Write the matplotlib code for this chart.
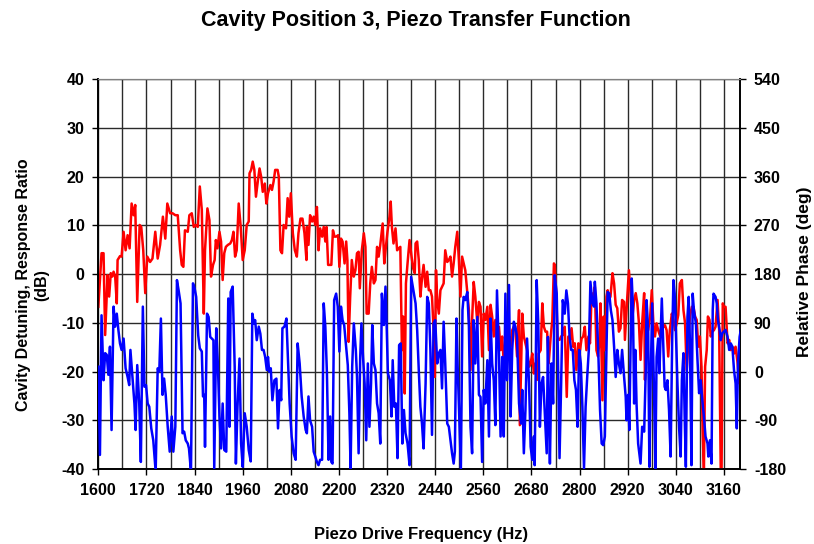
import matplotlib
matplotlib.use("Agg")
import matplotlib.pyplot as plt
import numpy as np

plt.rcParams['font.family'] = ['Liberation Sans', 'DejaVu Sans']
plt.rcParams['font.weight'] = 'bold'
plt.rcParams['axes.unicode_minus'] = False

# response ratio (dB), left axis
red_freq = [
    1600, 1608, 1613, 1617, 1623, 1627, 1631, 1635, 1638, 1642, 1646, 1648, 1654, 1658,
    1663, 1668, 1673, 1678, 1683, 1688, 1692, 1697, 1703, 1707, 1712, 1717, 1722, 1729,
    1735, 1742, 1748, 1754, 1761, 1767, 1772, 1779, 1785, 1792, 1798, 1804, 1808, 1812,
    1816, 1823, 1827, 1833, 1838, 1843, 1848, 1853, 1858, 1863,
    1866, 1872, 1877, 1881, 1886, 1890, 1893, 1897, 1902, 1906, 1910, 1914, 1918, 1923,
    1929, 1933, 1937, 1941, 1945, 1950, 1955, 1960, 1965, 1970, 1975, 1977, 1981, 1985,
    1989, 1993, 1998, 2002, 2006, 2010, 2015, 2019, 2023, 2029, 2033, 2037, 2041, 2047,
    2050, 2054, 2058, 2062, 2068, 2072, 2076, 2080, 2085, 2090, 2095, 2099, 2104, 2109,
    2114, 2119,
    2120, 2124, 2128, 2133, 2137, 2141, 2145, 2149, 2153, 2158, 2162, 2166, 2169, 2173,
    2177, 2181, 2185, 2189, 2193, 2198, 2201, 2205, 2209, 2214, 2218, 2221, 2224, 2228,
    2232, 2237, 2241, 2245, 2249, 2252, 2257, 2262, 2266, 2269, 2274, 2278, 2282, 2287,
    2291, 2295, 2299, 2303, 2309, 2313, 2317, 2321, 2326, 2329, 2332, 2336, 2341, 2345,
    2349, 2353, 2357, 2360, 2364, 2367, 2371, 2376, 2381, 2385, 2389,
    2391, 2395, 2399, 2403, 2407, 2411, 2416, 2420, 2424, 2428, 2432, 2436, 2439, 2442,
    2445, 2449, 2453, 2457, 2461, 2465, 2470, 2474, 2478, 2482, 2486, 2490, 2495, 2499,
    2503, 2507, 2511, 2515, 2520, 2524, 2528, 2532, 2536, 2540, 2545, 2549, 2553, 2557,
    2561, 2565, 2570, 2574, 2578, 2582, 2586, 2590, 2594, 2599, 2603, 2607, 2611, 2615,
    2619, 2624, 2628, 2632, 2636, 2640, 2644, 2649, 2651,
    2657, 2661, 2665, 2669, 2674, 2678, 2682, 2686, 2690, 2694, 2698, 2703, 2707, 2711,
    2715, 2719, 2723, 2728, 2732, 2736, 2738, 2742, 2745, 2750, 2754, 2758, 2763, 2768,
    2772, 2776, 2780, 2784, 2788, 2792, 2797, 2801, 2805, 2809, 2813, 2817, 2822, 2826,
    2830, 2834, 2838, 2842, 2846, 2850, 2852, 2857, 2860, 2863, 2867, 2870, 2873, 2877,
    2882, 2886, 2890, 2894, 2898, 2902, 2906, 2911, 2913,
    2919, 2923, 2927, 2931, 2936, 2940, 2944, 2948, 2952, 2956, 2961, 2963, 2967, 2971,
    2976, 2980, 2984, 2988, 2992, 2996, 3001, 3005, 3009, 3013, 3017, 3021, 3025, 3030,
    3034, 3038, 3042, 3046, 3050, 3055, 3059, 3063, 3067, 3071, 3075, 3080, 3084, 3088,
    3092, 3096, 3100, 3104, 3107, 3110, 3113, 3117, 3120, 3124, 3127, 3131, 3135, 3139,
    3144, 3148, 3152, 3154, 3157, 3160, 3164, 3169, 3173, 3177, 3181, 3185, 3189, 3194,
    3198, 3200, 3202,
]
red_db = [
    -6.7, 4.3, 4.3, -12.5, -0.2, -4.6, 0.2, -0.5, 0.5, -0.5, -6.0, 2.9, 3.7, 3.6,
    8.7, 4.9, 8.0, 5.3, 14.5, 12.1, 14.2, -5.7, 10.1, 9.7, 4.9, -3.9, 3.6, 2.5,
    3.2, 8.7, 3.2, 6.0, 11.8, 7.3, 14.5, 12.5, 12.5, 12.1, 12.1, 4.9, 1.9, 1.5,
    9.0, 8.7, 12.1, 12.5, 9.7, 10.1, 9.7, 18.0, 13.2, -8.1,
    4.9, 13.5, 11.1, -0.5, 1.9, 2.9, 7.0, 5.3, 8.7, 6.7, -1.2, 4.3, 5.6, 6.0,
    6.3, 7.0, 8.7, 3.6, 4.9, 14.5, 9.7, 2.9, 4.9, 10.1, 10.8, 20.7, 21.4, 23.1,
    21.4, 15.9, 19.3, 21.7, 20.0, 16.9, 18.6, 14.5, 16.6, 18.3, 17.3, 19.0, 21.4, 21.4,
    20.0, 4.9, 4.3, 10.1, 9.4, 15.6, 11.8, 16.6, 8.4, 4.9, 3.6, 8.4, 11.4, 11.4,
    8.4, 2.9,
    9.7, 6.0, 12.1, 10.8, 11.8, 10.1, 13.8, 4.9, 9.4, 7.7, 9.7, 6.7, 9.7, 1.9,
    1.9, 1.9, 9.0, 7.7, 7.7, 8.0, 1.5, 7.3, 6.7, 2.2, 6.7, 2.9, -13.9, -4.6,
    2.9, -0.5, 0.8, 4.3, 4.6, -2.9, 4.9, 8.4, 5.6, -8.1, -8.1, -1.9, 1.5, -1.9,
    -1.2, 5.6, 3.6, 6.0, 10.4, 2.2, 5.6, 8.7, 11.8, 14.9, 9.7, 6.3, 9.4, 4.9,
    5.3, 5.6, -15.6, -8.7, -24.5, -1.9, 2.2, 7.0, 3.6, 1.2, 0.2,
    6.3, 6.7, 2.9, -4.6, -0.9, 1.9, -2.6, 0.5, -3.3, -3.3, -4.6, -11.5, -21.1, 0.8,
    -5.3, -8.1, -3.3, -2.6, -1.9, 4.9, 2.5, 2.9, 3.6, -0.5, 2.2, 5.6, 8.7, 2.9,
    -4.6, 3.6, 2.2, 0.8, -3.9, -7.4, -19.7, -9.4, -1.6, -4.6, -10.1, -5.7, -6.7, -16.9,
    -8.1, -9.4, -6.7, -15.6, -6.3, -8.7, -12.8, -9.4, -13.5, -10.8, -15.6, -12.8, -18.3, -14.2,
    -16.3, -12.8, -14.9, -11.5, -10.8, -11.5, -16.9, -7.4, -31.0,
    -8.1, -12.8, -14.2, -15.6, -19.0, -18.3, -16.3, -20.4, -18.3, -21.7, -16.3, -15.6, -6.0, -10.8,
    -11.8, -11.8, -18.3, -12.8, -9.4, 2.2, 1.9, -4.6, -13.2, -13.5, -12.8, -12.5, -10.8, -25.2,
    -12.8, -13.5, -11.1, -14.9, -14.2, -19.7, -14.2, -15.6, -13.2, -12.8, -10.8, -15.6, -12.8, -14.2,
    -3.9, -5.3, -2.6, -15.6, -16.9, -13.2, -6.0, -25.9, -8.7, -15.6, -4.6, -3.3, -5.3, -4.6,
    0.2, -1.9, -6.3, -7.0, -11.8, -11.1, -5.3, -5.7, -13.5,
    -4.6, 0.8, -3.9, -9.4, -5.3, -3.9, -6.0, -10.1, -17.6, -10.1, -3.9, -21.7, -10.1, -11.5,
    -8.7, -3.3, -10.1, -12.8, -10.1, -11.5, -12.8, -9.4, -10.8, -10.5, -11.5, -16.9, -11.5, -8.1,
    -9.4, -11.5, -10.1, -8.4, -1.9, -1.2, -7.4, -10.1, -19.7, -14.2, -8.7, -6.7, -6.7, -8.7,
    -9.4, -14.9, -12.8, -19.0, -32.7, -40.2, -19.0, -15.6, -8.7, -9.4, -12.8, -11.8, -11.5, -10.8,
    -5.3, -11.5, -40.5, -40.5, -6.0, -6.7, -6.7, -14.2, -13.5, -15.6, -14.9, -16.3, -14.9, -18.3,
    -22.4, -15.6, -12.8,
]

# relative phase (deg), right axis
blue_freq = [
    1600, 1604, 1608, 1613, 1617, 1621, 1625, 1629, 1633, 1638, 1642, 1646, 1650, 1654,
    1658, 1663, 1668, 1673, 1677, 1680, 1685, 1690, 1693, 1697, 1702, 1706, 1711, 1715,
    1719, 1723, 1727, 1732, 1737, 1743, 1748, 1752, 1756, 1760, 1764, 1768, 1773, 1778,
    1783, 1787, 1792, 1796, 1800, 1805, 1810, 1814, 1818, 1823, 1826, 1831, 1836, 1840,
    1844, 1849, 1853, 1858,
    1861, 1864, 1866, 1871, 1875, 1879, 1883, 1887, 1889, 1894, 1898, 1902, 1906, 1910,
    1914, 1919, 1924, 1927, 1930, 1935, 1940, 1943, 1947, 1952, 1956, 1960, 1965, 1970,
    1975, 1980, 1984, 1988, 1991, 1995, 2000, 2004, 2008, 2012, 2016, 2020, 2023, 2026,
    2030, 2034, 2039, 2044, 2048, 2052, 2056, 2059, 2064, 2069, 2072, 2077, 2082, 2087,
    2092, 2097, 2102, 2107, 2112, 2117, 2120, 2124,
    2128, 2133, 2137, 2141, 2145, 2149, 2153, 2158, 2162, 2166, 2170, 2174, 2178, 2181,
    2184, 2188, 2193, 2197, 2201, 2205, 2209, 2213, 2218, 2222, 2226, 2229, 2233, 2237,
    2242, 2245, 2249, 2253, 2256, 2260, 2264, 2268, 2272, 2276, 2280, 2283, 2287, 2291,
    2295, 2299, 2303, 2307, 2312, 2316, 2319, 2322, 2327, 2331, 2334, 2338, 2342, 2346,
    2350, 2354, 2358, 2362, 2366, 2371, 2376, 2380, 2384,
    2391, 2395, 2399, 2403, 2407, 2411, 2416, 2420, 2424, 2428, 2432, 2436, 2440, 2445,
    2449, 2453, 2457, 2461, 2465, 2470, 2474, 2478, 2482, 2486, 2489, 2493, 2496, 2500,
    2504, 2508, 2511, 2515, 2520, 2524, 2528, 2532, 2536, 2540, 2545, 2549, 2553, 2557,
    2561, 2565, 2570, 2574, 2578, 2582, 2586, 2590, 2594, 2599, 2603, 2607, 2611, 2615,
    2619, 2624, 2628, 2632, 2636, 2640, 2644, 2649,
    2654, 2657, 2661, 2665, 2669, 2674, 2678, 2682, 2686, 2688, 2693, 2697, 2701, 2705,
    2709, 2713, 2718, 2721, 2723, 2726, 2730, 2734, 2738, 2743, 2746, 2750, 2754, 2758,
    2763, 2767, 2771, 2775, 2779, 2783, 2787, 2791, 2795, 2799, 2803, 2807, 2811, 2815,
    2819, 2823, 2827, 2832, 2836, 2838, 2842, 2847, 2851, 2855, 2859, 2863, 2867, 2870,
    2874, 2878, 2882, 2886, 2890, 2894, 2898, 2902, 2906, 2911,
    2915, 2917, 2921, 2924, 2927, 2930, 2933, 2936, 2939, 2942, 2946, 2949, 2952, 2956,
    2961, 2965, 2967, 2971, 2974, 2977, 2981, 2986, 2989, 2992, 2996, 2999, 3002, 3005,
    3009, 3012, 3015, 3019, 3023, 3027, 3031, 3034, 3037, 3040, 3044, 3048, 3052, 3055,
    3059, 3062, 3065, 3069, 3072, 3075, 3079, 3082, 3085, 3090, 3094, 3098, 3102, 3106,
    3110, 3114, 3119, 3121, 3125, 3129, 3132, 3134, 3139, 3142, 3145, 3149, 3152, 3156,
    3160, 3164, 3169, 3173, 3177, 3181, 3185, 3189, 3192, 3195, 3199, 3202,
]
blue_deg = [
    9, -154, 104, -16, 34, 31, -6, 46, -108, 120, 83, 107, 77, 52,
    40, 61, 6, -10, -25, 40, -10, -59, -108, 12, -59, -167, 120, -28,
    -25, -59, -65, -105, -127, -185, 6, 0, 98, -43, -13, -43, -102, -148,
    -83, -148, -102, 169, 151, 126, -114, -111, -127, -133, -142, -185, 163, 154,
    138, 67, 43, 37,
    -46, -43, -139, 107, 101, 64, 61, 58, -179, 80, 15, -83, -142, -59,
    -145, -148, 135, -102, 147, 157, 9, -170, -65, 24, -133, -176, -77, -102,
    -145, -166, 107, 89, 95, 58, 83, 70, 40, 40, 27, 3, 27, 0,
    6, -53, -16, -13, -105, -34, -53, 80, 83, 98, 40, -59, -120, -151,
    -163, 52, 15, -46, -83, -108, -114, -46,
    -90, -102, -148, -157, -167, -173, -163, -163, 126, 83, -3, -163, -83, -167,
    -170, 132, 144, 120, 37, 120, 95, 86, 46, 12, -77, -179, 9, 89,
    40, -10, -151, 27, 89, 27, -22, -127, 15, -102, -22, 86, 15, 3,
    -59, -77, -133, 144, 86, 157, 83, -3, -16, -83, 21, -65, -59, -160,
    49, 52, -133, -71, -114, -133, -173, 175, 157,
    126, 77, 3, -65, -96, -142, -22, 138, 126, 40, -117, 89, 95, 15,
    34, 40, -31, 92, 15, -96, -102, -127, -151, -170, -148, 98, 9, -83,
    -179, 114, 138, 132, 147, 83, -102, -151, 95, 15, 101, -43, -47, -167,
    -34, -59, 21, -120, 98, 15, -16, -99, 150, 33, -120, 27, -120, 144,
    -16, 160, -83, 40, 92, 83, 64, -59,
    -96, -34, -151, -71, 61, -22, -139, -163, -120, -173, 169, 89, -102, -22,
    -10, -71, -151, 64, -47, -170, 15, -59, 178, 144, 27, -160, -22, 132,
    107, 150, 126, 64, 40, 40, -16, -34, -102, 40, 15, -65, -179, -65,
    -10, 40, 166, 126, 120, 166, 126, 27, -71, -133, -136, -120, 40, 147,
    144, 113, 95, 46, -10, 40, 15, -3, 40, -10,
    -47, -90, -43, -108, 40, 172, 120, -59, 40, -59, -133, -151, -170, -102,
    -111, 3, 132, 77, -176, -22, 126, -53, -179, 27, 61, -3, 64, 135,
    40, -28, -34, -16, -71, -157, 64, 169, 144, 77, -22, -102, -157, -16,
    34, -83, -176, 101, 138, 58, -173, 144, 114, 89, 21, -40, -16, -53,
    -83, -120, -133, -157, -127, -170, 114, 144, 138, 126, 95, 77, 58, 71,
    74, 77, 64, 40, 52, 46, 3, -22, -105, 15, 64, 77,
]

x_ticks = np.arange(1600, 3161, 120)
x_minor = np.arange(1660, 3200, 120)
db_ticks = np.arange(-40, 41, 10)
deg_ticks = np.arange(-180, 541, 90)


def plot_transfer_function():
    fig = plt.figure(figsize=(8.14, 5.44), dpi=100)
    ax = fig.add_axes([0.1208, 0.1379, 0.7883, 0.7163])
    ax2 = ax.twinx()

    ax.plot(red_freq, red_db, color='#ff0000', linewidth=1.8, zorder=3)
    ax2.plot(blue_freq, blue_deg, color='#0000ff', linewidth=1.8, zorder=3)

    ax.set_xlim(1600, 3200)
    ax.set_ylim(-40, 40)
    ax2.set_ylim(-180, 540)
    ax.set_xticks(x_ticks)
    ax.set_xticks(x_minor, minor=True)
    ax.set_yticks(db_ticks)
    ax2.set_yticks(deg_ticks)

    ax.grid(True, which='both', axis='x', color='#2a2a2a', linewidth=1.0)
    ax.grid(True, which='major', axis='y', color='#2a2a2a', linewidth=1.0)
    ax.set_axisbelow(True)

    for a in (ax, ax2):
        a.tick_params(axis='both', which='major', direction='out', length=4,
                      width=1, labelsize=11.5, pad=6)
        a.tick_params(axis='x', which='minor', length=0)
        for lbl in a.get_xticklabels() + a.get_yticklabels():
            lbl.set_fontweight('bold')
        a.spines['top'].set_color('#808080')
        a.spines['left'].set_linewidth(1.2)
        a.spines['right'].set_linewidth(1.2)
        a.spines['bottom'].set_linewidth(1.2)

    fig.text(0.511, 0.962, 'Cavity Position 3, Piezo Transfer Function',
             ha='center', va='center', fontsize=15.5, fontweight='bold')
    fig.text(0.517, 0.018, 'Piezo Drive Frequency (Hz)',
             ha='center', va='center', fontsize=12, fontweight='bold')
    fig.text(0.04, 0.476, 'Cavity Detuning, Response Ratio\n(dB)',
             ha='center', va='center', rotation=90, fontsize=11.5,
             fontweight='bold', multialignment='center', linespacing=1.3)
    fig.text(0.988, 0.5, 'Relative Phase (deg)',
             ha='center', va='center', rotation=90, fontsize=12.5, fontweight='bold')

    fig.savefig('out.png', dpi=100)


plot_transfer_function()
